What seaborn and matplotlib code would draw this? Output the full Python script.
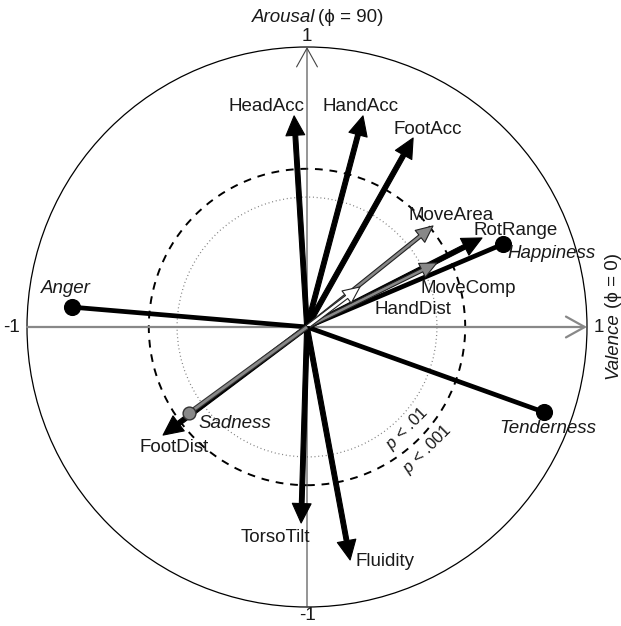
import numpy as np
import pandas as pd
import matplotlib
matplotlib.use("Agg")
import matplotlib.pyplot as plt
import seaborn as sns
from matplotlib.patches import FancyArrowPatch, Circle

sns.set_theme(style="white")
plt.rcParams['font.family'] = ['Liberation Sans', 'DejaVu Sans']
plt.rcParams['mathtext.fontset'] = 'custom'
plt.rcParams['mathtext.it'] = 'Liberation Sans:italic'
plt.rcParams['mathtext.rm'] = 'Liberation Sans'

# movement cue vectors (x = valence, y = arousal)
cues = ['HeadAcc', 'HandAcc', 'FootAcc', 'MoveArea', 'RotRange', 'MoveComp',
        'HandDist', 'FootDist', 'TorsoTilt', 'Fluidity']
cue_x = [-0.046, 0.200, 0.379, 0.450, 0.625, 0.464, 0.189, -0.514, -0.021, 0.154]
cue_y = [0.754, 0.754, 0.675, 0.361, 0.318, 0.229, 0.143, -0.386, -0.700, -0.832]
cue_fill = ['black', 'black', 'black', 'gray', 'black', 'gray', 'white', 'black', 'black', 'black']
cue_lx = [-0.143, 0.193, 0.432, 0.514, 0.746, 0.575, 0.379, -0.475, -0.114, 0.279]
cue_ly = [0.786, 0.786, 0.704, 0.400, 0.343, 0.139, 0.061, -0.432, -0.750, -0.836]

# emotion points
emotions = ['Happiness', 'Anger', 'Tenderness', 'Sadness']
emo_x = [0.700, -0.839, 0.846, -0.421]
emo_y = [0.296, 0.071, -0.304, -0.307]
emo_color = ['black', 'black', 'black', 'gray']
emo_lx = [0.875, -0.861, 0.861, -0.257]
emo_ly = [0.264, 0.139, -0.361, -0.343]

# significance circles
r_p01 = 0.464
r_p001 = 0.565

fig = plt.figure(figsize=(6.21, 6.26), dpi=100)
ax = fig.add_axes([0, 0, 1, 1])
ax.set_xlim(-307 / 280, (621 - 307) / 280)
ax.set_ylim(-(626 - 327) / 280, 327 / 280)
ax.set_aspect('equal')
ax.axis('off')

ax.add_patch(Circle((0, 0), 1.0, fill=False, ec='black', lw=0.9))
ax.add_patch(Circle((0, 0), r_p001, fill=False, ec='black', lw=1.4, ls=(0, (4, 3.5))))
ax.add_patch(Circle((0, 0), r_p01, fill=False, ec='gray', lw=0.9, ls=(0, (0.8, 2.2))))

# axes with open arrow heads
ax.annotate('', xy=(1.0, 0), xytext=(-1.0, 0),
            arrowprops=dict(arrowstyle='->,head_length=0.9,head_width=0.5', mutation_scale=15,
                            color='#888888', lw=1.6, shrinkA=0, shrinkB=0))
ax.annotate('', xy=(0, 1.0), xytext=(0, -1.0),
            arrowprops=dict(arrowstyle='->,head_length=0.9,head_width=0.5', mutation_scale=15,
                            color='#444444', lw=0.8, shrinkA=0, shrinkB=0))

# emotion lines (black ones under the arrows)
for x, y, c in zip(emo_x, emo_y, emo_color):
    if c == 'black':
        ax.plot([0, x], [0, y], color='black', lw=3.4, solid_capstyle='butt', zorder=3)

# cue arrows
for x, y, c in zip(cue_x, cue_y, cue_fill):
    if c == 'black':
        style = 'simple,head_length=14,head_width=13.5,tail_width=3.4'
        ec = 'black'
        fc = 'black'
    else:
        style = 'simple,head_length=12,head_width=11,tail_width=2.6'
        ec = '#222222'
        fc = '#888888' if c == 'gray' else 'white'
    arr = FancyArrowPatch((0, 0), (x, y), arrowstyle=style, mutation_scale=1,
                          fc=fc, ec=ec, lw=0.8, shrinkA=0, shrinkB=0, zorder=4)
    ax.add_patch(arr)

# sadness line on top of the FootDist arrow
for x, y, c in zip(emo_x, emo_y, emo_color):
    if c == 'gray':
        ax.plot([0, x], [0, y], color='#333333', lw=3.6, solid_capstyle='butt', zorder=4.5)
        ax.plot([0, x], [0, y], color='#888888', lw=2.0, solid_capstyle='butt', zorder=4.6)

df = pd.DataFrame({'x': emo_x, 'y': emo_y, 'c': emo_color})
sns.scatterplot(data=df[df.c == 'black'], x='x', y='y', color='black', s=130,
                edgecolor='black', ax=ax, zorder=5)
sns.scatterplot(data=df[df.c == 'gray'], x='x', y='y', color='#888888', s=85,
                edgecolor='#333333', linewidth=1, ax=ax, zorder=5)
ax.set_xlabel('')
ax.set_ylabel('')

fs = 13.5
tc = '#1a1a1a'
for name, x, y in zip(cues, cue_lx, cue_ly):
    ax.text(x, y, name, ha='center', va='center', fontsize=fs, color=tc, zorder=6)
for name, x, y in zip(emotions, emo_lx, emo_ly):
    ax.text(x, y, name, ha='center', va='center', fontsize=fs, style='italic', color=tc, zorder=6)

# p labels
ax.text(0.357, -0.364, '$p$ < .01', rotation=45, ha='center', va='center', fontsize=12, color=tc)
ax.text(0.429, -0.436, '$p$ < .001', rotation=45, ha='center', va='center', fontsize=12, color=tc)

# axis labels
ax.text(0.0, 1.036, '1', ha='center', va='center', fontsize=fs, color=tc)
ax.text(0.0, -1.032, '-1', ha='center', va='center', fontsize=fs, color=tc)
ax.text(-1.054, 0.0, '-1', ha='center', va='center', fontsize=fs, color=tc)
ax.text(1.043, 0.0, '1', ha='center', va='center', fontsize=fs, color=tc)
ax.text(0.029, 1.107, 'Arousal', ha='right', va='center', fontsize=fs, style='italic', color=tc)
ax.text(0.040, 1.107, '(\u03d5 = 90)', ha='left', va='center', fontsize=fs, color=tc)
ax.text(1.093, 0.054, 'Valence', rotation=90, ha='center', va='top', fontsize=fs, style='italic', color=tc)
ax.text(1.093, 0.068, '(\u03d5 = 0)', rotation=90, ha='center', va='bottom', fontsize=fs, color=tc)

fig.savefig('out.png', dpi=100, facecolor='white')
